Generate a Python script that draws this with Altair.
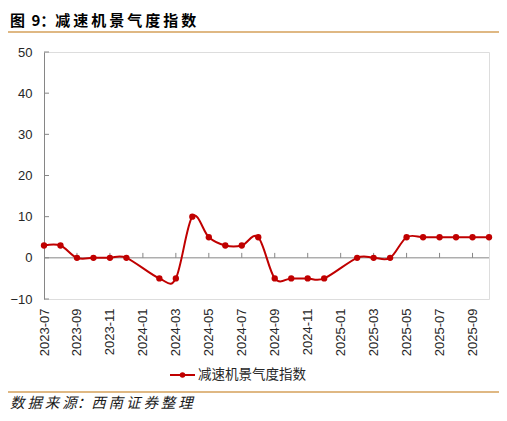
import altair as alt
import pandas as pd

months = ["2023-07", "2023-08", "2023-09", "2023-10", "2023-11", "2023-12",
          "2024-01", "2024-02", "2024-03", "2024-04", "2024-05", "2024-06",
          "2024-07", "2024-08", "2024-09", "2024-10", "2024-11", "2024-12",
          "2025-01", "2025-02", "2025-03", "2025-04", "2025-05", "2025-06",
          "2025-07", "2025-08", "2025-09", "2025-10"]
values = [3, 3, 0, 0, 0, 0,
          None, -5, -5, 10, 5, 3,
          3, 5, -5, -5, -5, -5,
          None, 0, 0, 0, 5, 5,
          5, 5, 5, 5]
label_months = months[::2]
y_ticks = [-10, 0, 10, 20, 30, 40, 50]
series_name = "减速机景气度指数"
title_text = "图\u2009 9：减\u2009速\u2009机\u2009景\u2009气\u2009度\u2009指\u2009数"
source_text = "数\u2009据\u2009来\u2009源：西\u2009南\u2009证\u2009券\u2009整\u2009理"

RED = "#C00000"
GRAY = "#868686"
TAN = "#D4A05A"
CJK = "Noto Sans CJK SC"
NUM = "Liberation Sans"

W, H = 445, 247

df = pd.DataFrame({"month": months, "value": values}).dropna()

x_enc = alt.X("month:O", scale=alt.Scale(type="point", domain=months, padding=0),
              axis=alt.Axis(values=label_months, labelAngle=270, ticks=False, domain=False,
                            labelPadding=9, labelFont=NUM, labelFontSize=13,
                            labelColor="#262626", title=None, grid=False))
y_scale = alt.Scale(domain=[-10, 50], nice=False, zero=False)

line = alt.Chart(df).mark_line(color=RED, strokeWidth=2, interpolate="cardinal", tension=0).encode(
    x=x_enc,
    y=alt.Y("value:Q", scale=y_scale,
            axis=alt.Axis(values=y_ticks, ticks=False, domainColor=GRAY, domainWidth=1,
                          labelPadding=12, labelFont=NUM, labelFontSize=13,
                          labelColor="#262626", title=None, grid=False)),
)
points = alt.Chart(df).mark_point(filled=True, color=RED, size=40, opacity=1).encode(
    x="month:O", y="value:Q"
)

zero_line = alt.Chart(pd.DataFrame({"z": [0]})).mark_rule(color=GRAY, strokeWidth=1).encode(
    y=alt.Y("z:Q", scale=y_scale), x=alt.value(0), x2=alt.value(W)
)
xt = pd.DataFrame({"month": label_months[1:], "y0": [0] * (len(label_months) - 1),
                   "y1": [1.2] * (len(label_months) - 1)})
x_ticks = alt.Chart(xt).mark_rule(color=GRAY, strokeWidth=1).encode(
    x="month:O", y=alt.Y("y0:Q", scale=y_scale), y2="y1:Q"
)
y_tick_marks = alt.Chart(pd.DataFrame({"t": y_ticks})).mark_rule(color=GRAY, strokeWidth=1).encode(
    y=alt.Y("t:Q", scale=y_scale), x=alt.value(0), x2=alt.value(5)
)

one = pd.DataFrame({"a": [0]})
title_mark = alt.Chart(pd.DataFrame({"t": [title_text]})).mark_text(
    font=CJK, fontSize=15, fontWeight="bold", align="left", baseline="middle", color="#000000"
).encode(text="t:N", x=alt.value(-34), y=alt.value(-31))
top_rule = alt.Chart(one).mark_rule(color=TAN, strokeWidth=1.5).encode(
    x=alt.value(-36), x2=alt.value(W + 10), y=alt.value(-20)
)
bottom_rule = alt.Chart(one).mark_rule(color=TAN, strokeWidth=1.5).encode(
    x=alt.value(-36), x2=alt.value(W + 10), y=alt.value(340)
)
source_mark = alt.Chart(pd.DataFrame({"t": [source_text]})).mark_text(
    font=CJK, fontSize=14.5, fontStyle="italic", align="left", baseline="middle", color="#1a1a1a"
).encode(text="t:N", x=alt.value(-34), y=alt.value(352))

leg_line = alt.Chart(one).mark_rule(color=RED, strokeWidth=2).encode(
    x=alt.value(126), x2=alt.value(151), y=alt.value(323)
)
leg_dot = alt.Chart(one).mark_point(filled=True, color=RED, size=30, opacity=1).encode(
    x=alt.value(138.5), y=alt.value(323)
)
leg_text = alt.Chart(pd.DataFrame({"t": [series_name]})).mark_text(
    font=CJK, fontSize=13.5, align="left", baseline="middle", color="#262626"
).encode(text="t:N", x=alt.value(154), y=alt.value(323))

chart = alt.layer(
    zero_line, x_ticks, y_tick_marks, line, points,
    title_mark, top_rule, bottom_rule, source_mark, leg_line, leg_dot, leg_text
).properties(
    width=W, height=H,
    autosize=alt.AutoSizeParams(type="none"),
    padding={"left": 36, "top": 44, "right": 10, "bottom": 114},
).configure_view(stroke=None).configure(background="white")

chart.save("out.html", embed_options={"renderer": "svg", "actions": False})
